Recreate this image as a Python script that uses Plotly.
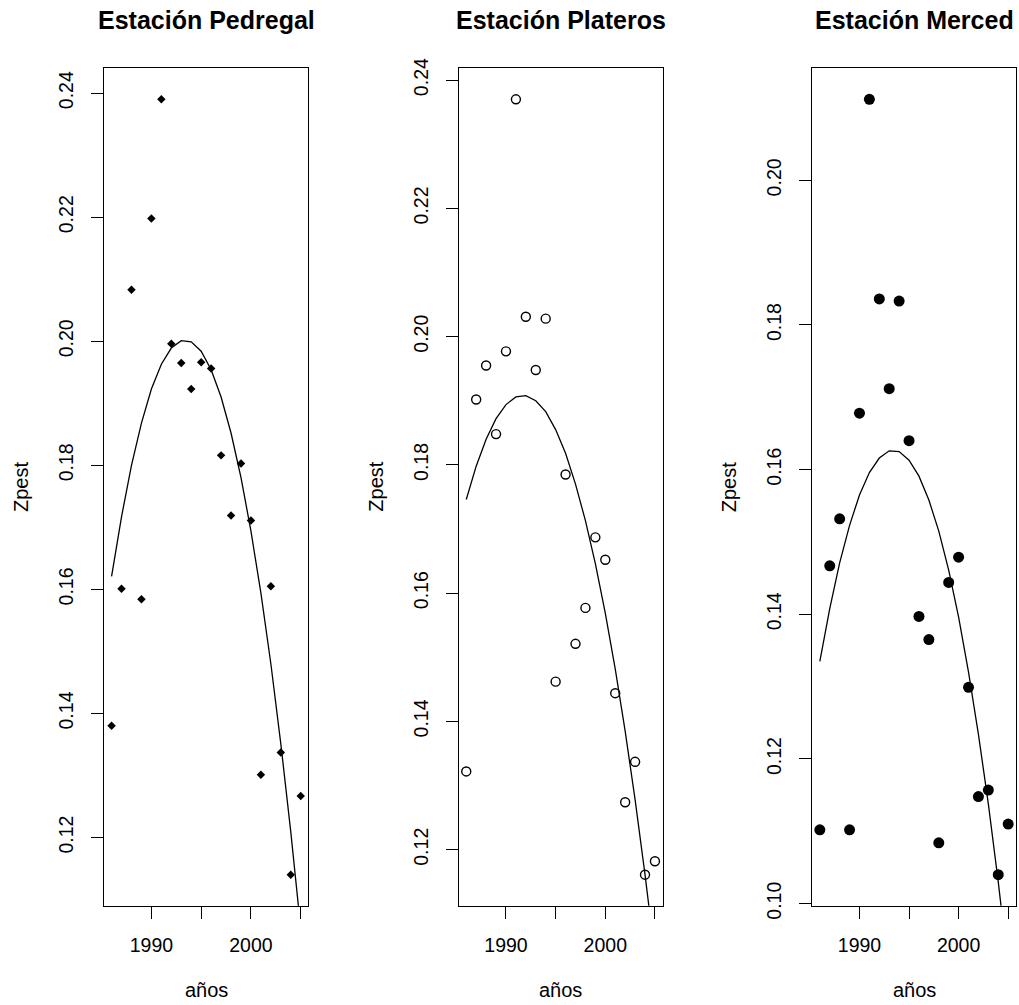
import plotly.graph_objects as go

# ---------------- data ----------------
years = [1986, 1987, 1988, 1989, 1990, 1991, 1992, 1993, 1994, 1995,
         1996, 1997, 1998, 1999, 2000, 2001, 2002, 2003, 2004, 2005]

z_pedregal = [0.1380, 0.1601, 0.2083, 0.1584, 0.2198, 0.2390, 0.1996, 0.1965, 0.1923, 0.1966,
              0.1956, 0.1816, 0.1719, 0.1803, 0.1711, 0.1301, 0.1605, 0.1337, 0.1140, 0.1267]
z_plateros = [0.1322, 0.1902, 0.1955, 0.1848, 0.1977, 0.2370, 0.2031, 0.1948, 0.2028, 0.1462,
              0.1785, 0.1521, 0.1577, 0.1687, 0.1652, 0.1444, 0.1274, 0.1337, 0.1161, 0.1182]
z_merced = [0.1102, 0.1467, 0.1532, 0.1102, 0.1678, 0.2112, 0.1836, 0.1712, 0.1833, 0.1640,
            0.1397, 0.1365, 0.1084, 0.1444, 0.1479, 0.1299, 0.1148, 0.1157, 0.1040, 0.1110]

# fitted (quadratic trend) curves as drawn in the reference
fit_pedregal = [0.1621, 0.1717, 0.1800, 0.1868, 0.1923, 0.1963, 0.1989, 0.2001, 0.1999, 0.1984,
                0.1954, 0.1910, 0.1852, 0.1780, 0.1694, 0.1594, 0.1480, 0.1351, 0.1209, 0.1053]
fit_plateros = [0.1746, 0.1798, 0.1840, 0.1872, 0.1894, 0.1906, 0.1908, 0.1900, 0.1883, 0.1855,
                0.1818, 0.1770, 0.1713, 0.1646, 0.1569, 0.1482, 0.1385, 0.1278, 0.1161, 0.1035]
fit_merced = [0.1335, 0.1408, 0.1471, 0.1523, 0.1565, 0.1596, 0.1616, 0.1626, 0.1625, 0.1613,
              0.1591, 0.1558, 0.1515, 0.1461, 0.1396, 0.1320, 0.1234, 0.1138, 0.1030, 0.0912]

titles = ["Estación Pedregal", "Estación Plateros", "Estación Merced"]
x_label = "años"
y_label = "Zpest"
x_tickvals = [1990, 1995, 2000, 2005]
x_ticktext = ["1990", "", "2000", ""]
y_ticks_pedregal = [0.12, 0.14, 0.16, 0.18, 0.20, 0.22, 0.24]
y_ticks_plateros = [0.12, 0.14, 0.16, 0.18, 0.20, 0.22, 0.24]
y_ticks_merced = [0.10, 0.12, 0.14, 0.16, 0.18, 0.20]

# ---------------- layout / style ----------------
W, H = 1019, 1005
FONT = "Liberation Sans, Arial, Helvetica, sans-serif"
panels_px = [(104.0, 308.3), (458.7, 662.5), (812.3, 1015.7)]
top_px, bot_px = 68.3, 905.7

series = [z_pedregal, z_plateros, z_merced]
fits = [fit_pedregal, fit_plateros, fit_merced]
yticks = [y_ticks_pedregal, y_ticks_plateros, y_ticks_merced]
markers = [
    dict(symbol="diamond", size=6.5, color="black", line=dict(width=0)),
    dict(symbol="circle-open", size=9, color="black", line=dict(width=1.4, color="black")),
    dict(symbol="circle", size=11, color="black", line=dict(width=0)),
]


def pad_range(vals):
    lo, hi = min(vals), max(vals)
    r = hi - lo
    return [lo - 0.04 * r, hi + 0.04 * r]


fig = go.Figure()
layout = dict(
    width=W, height=H, autosize=False,
    margin=dict(l=0, r=0, t=0, b=0, pad=0, autoexpand=False),
    paper_bgcolor="white", plot_bgcolor="white",
    showlegend=False,
    font=dict(family=FONT, color="black", size=20),
)
annotations = []

for i in range(3):
    xa = "x" if i == 0 else f"x{i+1}"
    ya = "y" if i == 0 else f"y{i+1}"
    xk = "xaxis" if i == 0 else f"xaxis{i+1}"
    yk = "yaxis" if i == 0 else f"yaxis{i+1}"
    x0, x1 = panels_px[i]

    fig.add_trace(go.Scatter(x=years, y=series[i], mode="markers", marker=markers[i],
                             xaxis=xa, yaxis=ya, cliponaxis=False))
    fig.add_trace(go.Scatter(x=years, y=fits[i], mode="lines",
                             line=dict(color="black", width=1.3),
                             xaxis=xa, yaxis=ya))

    layout[xk] = dict(
        domain=[x0 / W, x1 / W], anchor=ya, automargin=False,
        range=pad_range(years),
        tickmode="array", tickvals=x_tickvals, ticktext=x_ticktext,
        ticks="outside", ticklen=12, tickwidth=1.3, tickcolor="black",
        showline=True, linecolor="black", linewidth=1.3, mirror=True,
        showgrid=False, zeroline=False,
        tickfont=dict(family=FONT, size=19.5, color="black"),
        ticklabelstandoff=10,
    )
    layout[yk] = dict(
        domain=[1 - bot_px / H, 1 - top_px / H], anchor=xa, automargin=False,
        range=pad_range(series[i]),
        tickmode="array", tickvals=yticks[i],
        ticktext=[f"{v:.2f}" for v in yticks[i]],
        ticks="outside", ticklen=12, tickwidth=1.3, tickcolor="black",
        tickangle=-90,
        showline=True, linecolor="black", linewidth=1.3, mirror=True,
        showgrid=False, zeroline=False,
        tickfont=dict(family=FONT, size=19.5, color="black"),
        ticklabelstandoff=10,
    )

    cx = (x0 + x1) / 2
    annotations.append(dict(text=f"<b>{titles[i]}</b>", x=cx / W, y=1 - 19.7 / H,
                            xref="paper", yref="paper", showarrow=False,
                            xanchor="center", yanchor="middle",
                            font=dict(family=FONT, size=25, color="black")))
    annotations.append(dict(text=x_label, x=cx / W, y=1 - 990 / H,
                            xref="paper", yref="paper", showarrow=False,
                            xanchor="center", yanchor="middle",
                            font=dict(family=FONT, size=20, color="black")))
    annotations.append(dict(text=y_label, x=(x0 - 83) / W, y=1 - 487 / H,
                            xref="paper", yref="paper", showarrow=False,
                            xanchor="center", yanchor="middle", textangle=-90,
                            font=dict(family=FONT, size=20, color="black")))

layout["annotations"] = annotations
fig.update_layout(**layout)
fig.write_html("out.html")
